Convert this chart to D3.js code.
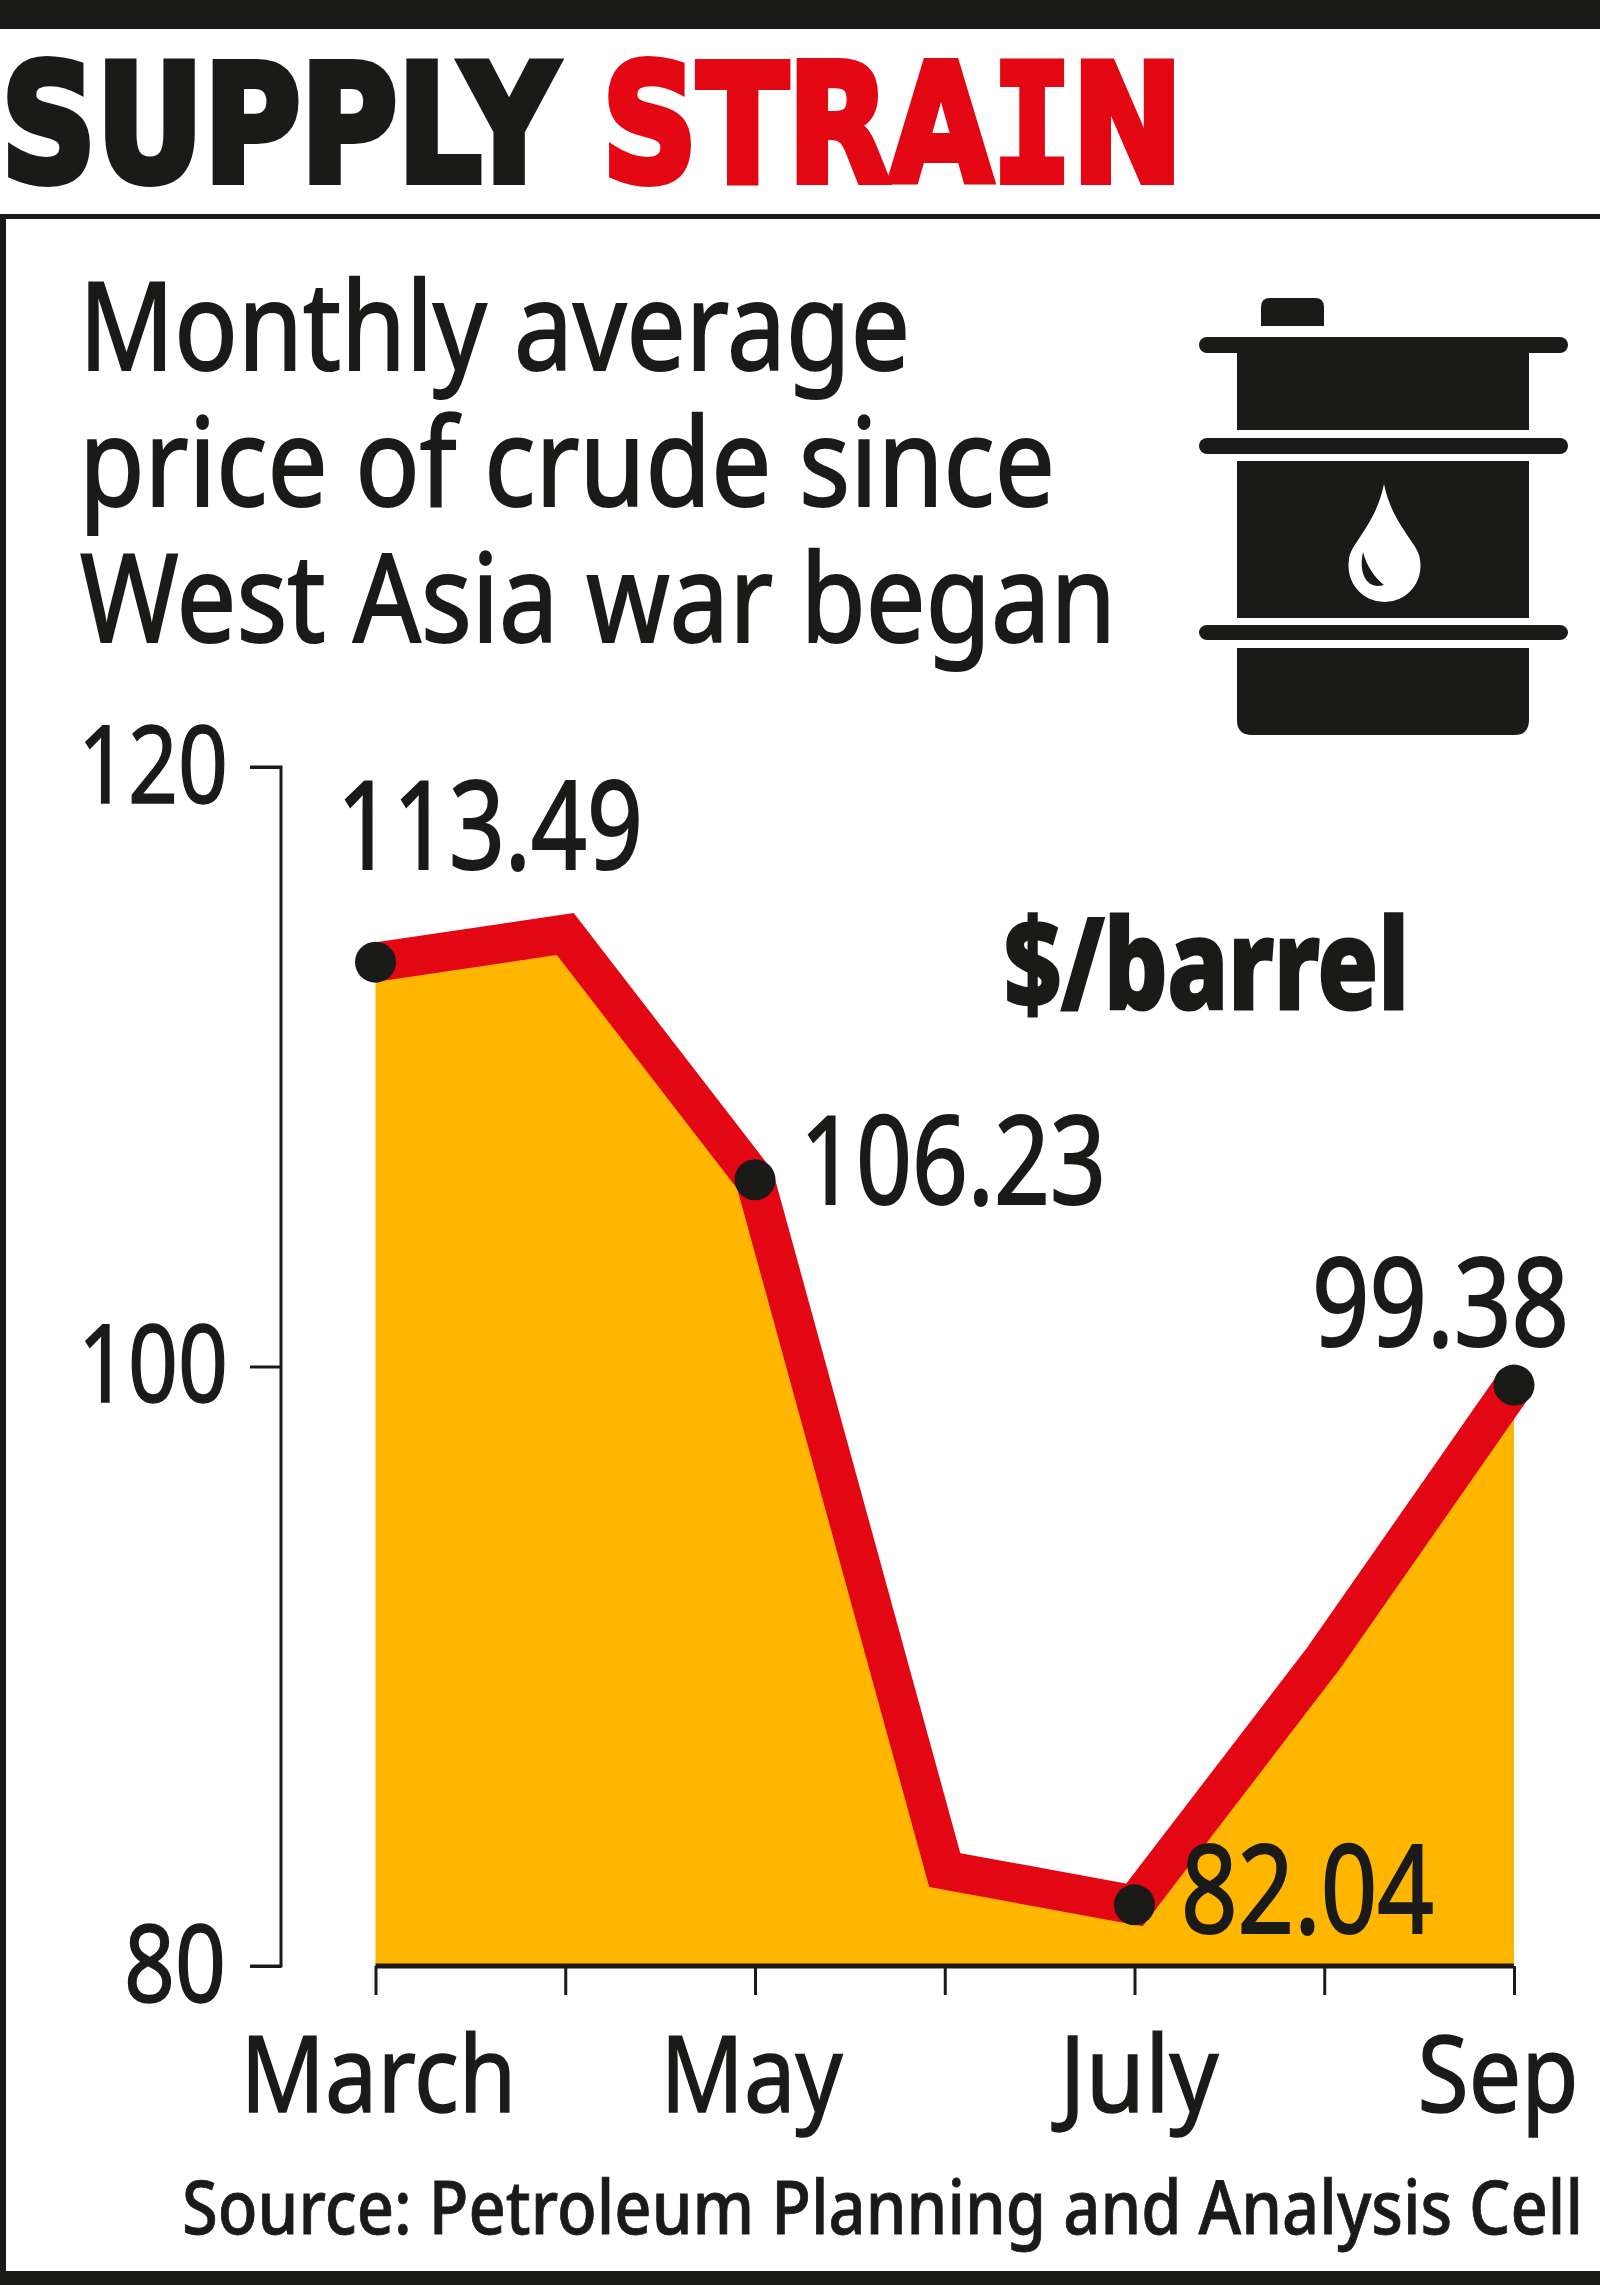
<!DOCTYPE html>
<html>
<head>
<meta charset="utf-8">
<script src="https://cdn.jsdelivr.net/npm/d3@7"></script>
<style>
html,body{margin:0;padding:0;background:#fff}
svg{display:block}
text{font-family:"Noto Sans",sans-serif;fill:#1a1a18}
</style>
</head>
<body>
<svg id="chart" width="1600" height="2285"></svg>
<script>
const months = ["March","April","May","June","July","August","Sep"];
const prices = [113.49,114.43,106.23,83.2,82.04,90.3,99.38];
const valueLabels = ["113.49",null,"106.23",null,"82.04",null,"99.38"];
const yTicks = [80,100,120];
const xLabels = {March:"March",May:"May",July:"July",Sep:"Sep"};
const subtitleLines = ["Monthly average","price of crude since","West Asia war began"];

const INK="#1a1a18", RED="#e30613", AMBER="#ffb600";
const svg=d3.select("#chart");
const rows=months.map((m,i)=>({m,v:prices[i],label:valueLabels[i]}));

const x=d3.scalePoint().domain(months).range([375.5,1514]);
const y=d3.scaleLinear().domain([80,120]).range([1966,767]);

// frame
svg.append("rect").attr("width",1600).attr("height",29).attr("fill",INK);
svg.append("rect").attr("y",214).attr("width",1600).attr("height",5).attr("fill",INK);
svg.append("rect").attr("y",214).attr("width",6).attr("height",2060).attr("fill",INK);
svg.append("rect").attr("y",2271).attr("width",1600).attr("height",14).attr("fill",INK);

function fit(sel,x0,x1,base,size,weight){
  sel.attr("x",x0).attr("y",base).attr("font-size",size)
    .attr("text-anchor","start")
    .attr("textLength",x1-x0).attr("lengthAdjust","spacingAndGlyphs");
  if(weight) sel.attr("stroke",INK).attr("stroke-width",weight);
  return sel;
}

// headline
const head1=svg.append("text").text("SUPPLY").style("font-family","'DejaVu Sans'").attr("font-weight",700);
fit(head1,1,557,181,163,8);
const head2=svg.append("text").style("font-family","'DejaVu Sans'").attr("font-weight",700)
  .style("fill",RED);
head2.append("tspan").text("STRA");
head2.append("tspan").text("I").style("font-family","'DejaVu Sans Mono'");
head2.append("tspan").text("N");
fit(head2,602,1183,181,163,8).attr("stroke",RED);

// subtitle
const subX=[[79,910],[79,1055],[80,1116]];
subtitleLines.forEach((t,i)=>{
  fit(svg.append("text").text(t),subX[i][0],subX[i][1],370+136*i,123,2);
});

// barrel icon
const icon=svg.append("g").attr("fill",INK);
icon.append("path").attr("d","M1261,326V307Q1261,298 1270,298H1315Q1324,298 1324,307V326Z");
[[337,16],[438,16],[625,15]].forEach(([t,h])=>{
  icon.append("rect").attr("x",1199).attr("y",t).attr("width",369).attr("height",h).attr("rx",8);
});
icon.append("rect").attr("x",1237).attr("y",345).attr("width",292).attr("height",85);
icon.append("rect").attr("x",1237).attr("y",461).attr("width",292).attr("height",157);
icon.append("path").attr("d","M1237,648H1529V720Q1529,735 1514,735H1252Q1237,735 1237,720Z");
svg.append("path").attr("fill","#fff")
  .attr("d","M1384,484C1392,525 1420,545 1420,560A36,36 0 1 1 1349,560C1349,545 1376,525 1384,484Z");
svg.append("path").attr("fill",INK)
  .attr("d","M1363,552C1358,575 1368,590 1384,585C1375,578 1366,565 1363,552Z");

// area and line
svg.append("path").datum(rows).attr("fill",AMBER)
  .attr("d",d3.area().x(d=>x(d.m)).y0(y(80)).y1(d=>y(d.v)));
svg.append("path").datum(rows).attr("fill","none").attr("stroke",RED).attr("stroke-width",39)
  .attr("stroke-linejoin","miter").attr("stroke-miterlimit",10)
  .attr("d",d3.line().x(d=>x(d.m)).y(d=>y(d.v)));

// y axis
const yAxis=svg.append("g").attr("transform","translate(281,0)")
  .call(d3.axisLeft(y).tickValues(yTicks).tickSize(31).tickPadding(0));
yAxis.selectAll("path,line").attr("stroke",INK).attr("stroke-width",3);
yAxis.select(".domain").attr("d",`M-31,${y(120)}H0V${y(80)}H-31`);
yAxis.selectAll("text").each(function(d){
  const t=d3.select(this).attr("dy",null).attr("transform","translate(-281,0)");
  fit(t,d===80?124:78,d===80?226:228,35,108,1.5);
});

// x axis
const xAxis=svg.append("g").attr("transform",`translate(0,${y(80)})`)
  .call(d3.axisBottom(x).tickSize(29).tickPadding(0).tickFormat(d=>xLabels[d]||""));
xAxis.selectAll("path,line").attr("stroke",INK).attr("stroke-width",3);
xAxis.select(".domain").attr("stroke-width",5).attr("d",`M${x.range()[0]},0H${x.range()[1]}`);
const xSpan={March:[240,516],May:[660,842],July:[1059,1218],Sep:[1417,1578]};
xAxis.selectAll(".tick").each(function(d){
  const g=d3.select(this), tx=g.select("text");
  if(!xSpan[d]){tx.remove();return;}
  tx.attr("dy",null);
  const off=x(d);
  fit(tx,xSpan[d][0]-off,xSpan[d][1]-off,146,106,1.5);
});

// dots
svg.append("g").selectAll("circle").data(rows.filter(d=>d.label)).join("circle")
  .attr("cx",d=>x(d.m)).attr("cy",d=>y(d.v)).attr("r",20.5).attr("fill",INK);

// value labels
const labelBox={"113.49":[337,643,869],"106.23":[800,1106,1204],"82.04":[1181,1434,1933],"99.38":[1312,1569,1346]};
rows.filter(d=>d.label).forEach(d=>{
  const b=labelBox[d.label];
  fit(svg.append("text").text(d.label),b[0],b[1],b[2],122,2);
});

// unit
fit(svg.append("text").text("$/barrel").attr("font-weight",800),1004,1409,1009,125,3);

// source
fit(svg.append("text").text("Source: Petroleum Planning and Analysis Cell").attr("font-weight",500),182,1583,2234,75,0.8);
</script>
</body>
</html>
